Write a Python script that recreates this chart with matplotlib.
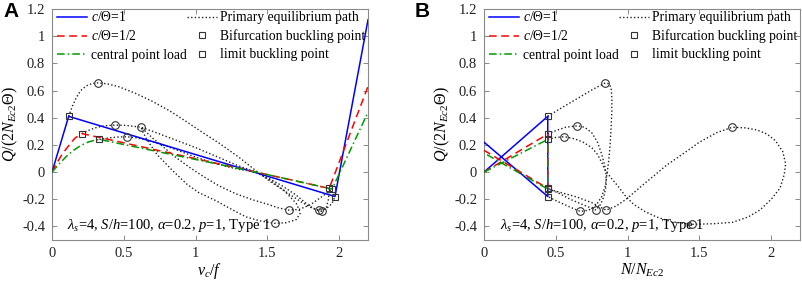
import matplotlib
matplotlib.use("Agg")
import matplotlib.pyplot as plt
from matplotlib.lines import Line2D

plt.rcParams['font.family'] = ['Liberation Serif', 'DejaVu Serif']
plt.rcParams['mathtext.fontset'] = 'custom'
plt.rcParams['mathtext.rm'] = 'Liberation Serif'
plt.rcParams['mathtext.it'] = 'Liberation Serif:italic'
plt.rcParams['mathtext.bf'] = 'Liberation Serif:bold'

# ---------------- Panel A (Q vs v_c/f) ----------------
vA_blue = [0, 0.116, 1.97, 2.2]
QA_blue = [0, 0.41, -0.18, 1.12]
vA_red = [0, 0.03, 0.07, 0.12, 0.16, 0.209, 1.42, 1.93, 2.2]
QA_red = [0, 0.06, 0.13, 0.20, 0.25, 0.283, 0.0, -0.12, 0.63]
vA_green = [0, 0.05, 0.10, 0.15, 0.20, 0.25, 0.30, 0.33, 1.42, 1.95, 2.2]
QA_green = [0, 0.06, 0.115, 0.16, 0.195, 0.22, 0.235, 0.24, 0.0, -0.125, 0.44]

vA_path1 = [0.116, 0.14, 0.17, 0.20, 0.24, 0.28, 0.318, 0.38, 0.46, 0.58, 0.70, 0.82, 0.93,
            1.05, 1.16, 1.30, 1.42, 1.52, 1.62, 1.72, 1.80, 1.86, 1.91, 1.95, 1.97]
QA_path1 = [0.41, 0.48, 0.55, 0.60, 0.635, 0.652, 0.656, 0.65, 0.63, 0.58, 0.52, 0.45, 0.375,
            0.29, 0.215, 0.11, 0.01, -0.07, -0.14, -0.21, -0.26, -0.28, -0.27, -0.23, -0.18]
vA_path2 = [0.209, 0.25, 0.30, 0.36, 0.44, 0.52, 0.62, 0.70, 0.80, 0.90, 1.0, 1.1, 1.2, 1.3,
            1.42, 1.5, 1.6, 1.7, 1.78, 1.84, 1.88, 1.91, 1.925, 1.93]
QA_path2 = [0.283, 0.305, 0.325, 0.34, 0.346, 0.343, 0.33, 0.30, 0.26, 0.22, 0.18, 0.135, 0.09, 0.045,
            0.0, -0.04, -0.10, -0.17, -0.24, -0.28, -0.29, -0.26, -0.20, -0.12]
vA_path3 = [0.33, 0.40, 0.46, 0.52, 0.60, 0.70, 0.80, 0.90, 1.0, 1.1, 1.2, 1.3, 1.42, 1.52, 1.62,
            1.70, 1.73, 1.70, 1.63, 1.55, 1.45, 1.35, 1.26, 1.14, 1.02, 0.94, 0.84, 0.73, 0.66,
            0.63, 0.62, 0.65, 0.70, 0.78, 0.86, 0.95, 1.05, 1.16, 1.28, 1.40, 1.51, 1.58, 1.65,
            1.72, 1.80, 1.88, 1.95]
QA_path3 = [0.24, 0.252, 0.258, 0.26, 0.25, 0.225, 0.19, 0.15, 0.11, 0.075, 0.045, 0.02, 0.0,
            -0.06, -0.14, -0.23, -0.30, -0.35, -0.373, -0.377, -0.36, -0.33, -0.28, -0.21, -0.15,
            -0.09, 0.01, 0.13, 0.24, 0.30, 0.33, 0.30, 0.25, 0.18, 0.11, 0.04, -0.03, -0.10, -0.16,
            -0.205, -0.24, -0.265, -0.28, -0.275, -0.24, -0.18, -0.125]

vA_bif = [0.116, 0.209, 0.33, 1.97, 1.93, 1.95]
QA_bif = [0.41, 0.283, 0.24, -0.18, -0.12, -0.125]
vA_lim = [0.318, 0.44, 0.52, 0.62, 1.55, 1.65, 1.86, 1.88]
QA_lim = [0.656, 0.346, 0.26, 0.33, -0.377, -0.28, -0.28, -0.29]

# ---------------- Panel B (Q vs N/N_Ec2) ----------------
NB_blue = [0, 0.444, 0.444, 0]
QB_blue = [0, 0.41, -0.18, 0.22]
NB_red = [0, 0.444, 0.444, 0]
QB_red = [0, 0.28, -0.12, 0.16]
NB_green = [0, 0.444, 0.444, 0]
QB_green = [0, 0.24, -0.125, 0.14]

NB_path1 = [0.444, 0.52, 0.60, 0.68, 0.76, 0.845, 0.87, 0.885, 0.89, 0.89, 0.885, 0.878, 0.868,
            0.858, 0.845, 0.82, 0.78, 0.73, 0.67, 0.60, 0.52, 0.444]
QB_path1 = [0.41, 0.46, 0.51, 0.56, 0.61, 0.656, 0.65, 0.62, 0.55, 0.45, 0.33, 0.20, 0.08,
            0.0, -0.10, -0.18, -0.245, -0.28, -0.29, -0.258, -0.22, -0.18]
NB_path2 = [0.444, 0.50, 0.57, 0.65, 0.70, 0.75, 0.79, 0.82, 0.84, 0.85, 0.85, 0.835, 0.81, 0.78,
            0.70, 0.60, 0.52, 0.444]
QB_path2 = [0.28, 0.305, 0.33, 0.34, 0.33, 0.29, 0.22, 0.13, 0.05, -0.02, -0.10, -0.18, -0.24, -0.28,
            -0.245, -0.20, -0.155, -0.12]
NB_path3 = [0.444, 0.50, 0.56, 0.63, 0.69, 0.75, 0.79, 0.82, 0.845, 0.89, 0.93, 0.98, 1.04, 1.12,
            1.20, 1.30, 1.45, 1.60, 1.73, 1.84, 1.92, 2.0, 2.06, 2.09, 2.10, 2.08, 2.03, 1.97, 1.90,
            1.82, 1.73, 1.62, 1.50, 1.38, 1.27, 1.18, 1.10, 0.99, 0.92, 0.85, 0.75, 0.65, 0.55, 0.444]
QB_path3 = [0.24, 0.255, 0.26, 0.245, 0.22, 0.18, 0.13, 0.07, 0.01, -0.05, -0.10, -0.17, -0.236, -0.29,
            -0.33, -0.365, -0.385, -0.38, -0.37, -0.33, -0.28, -0.20, -0.12, -0.02, 0.06, 0.15, 0.23, 0.28,
            0.31, 0.325, 0.33, 0.29, 0.22, 0.13, 0.05, -0.03, -0.10, -0.20, -0.25, -0.28, -0.225, -0.185,
            -0.155, -0.125]

NB_bif = [0.444, 0.444, 0.444, 0.444, 0.444, 0.444]
QB_bif = [0.41, 0.28, 0.24, -0.12, -0.125, -0.18]
NB_lim = [0.845, 0.65, 0.56, 1.73, 1.45, 0.67, 0.78, 0.85]
QB_lim = [0.656, 0.34, 0.26, 0.33, -0.385, -0.29, -0.28, -0.28]

yticks = [-0.4, -0.2, 0, 0.2, 0.4, 0.6, 0.8, 1, 1.2]
ytick_labels = ['-0.4', '-0.2', '0', '0.2', '0.4', '0.6', '0.8', '1', '1.2']
xticks = [0, 0.5, 1, 1.5, 2]
xtick_labels = ['0', '0.5', '1', '1.5', '2']

legend_labels = [r'$c/\Theta$=1', r'$c/\Theta$=1/2', 'central point load',
                 'Primary equilibrium path', 'Bifurcation buckling point', 'limit buckling point']
annot = r'$\lambda_s$=4, $S/h$=100, $\alpha$=0.2, $p$=1, Type 1'

BLUE = '#0000ff'
RED = '#ff0000'
GREEN = '#009a00'
SPINE = '#8a8a8a'

fig = plt.figure(figsize=(8.03, 2.87), dpi=100)
axA = fig.add_axes([52/803, 47/287, 316/803, 231/287])
axB = fig.add_axes([484/803, 47/287, 316/803, 231/287])


def style(ax, xlabel):
    ax.set_xlim(0, 2.2)
    ax.set_ylim(-0.5, 1.2)
    ax.set_xticks(xticks)
    ax.set_xticklabels(xtick_labels)
    ax.set_yticks(yticks)
    ax.set_yticklabels(ytick_labels)
    ax.tick_params(direction='in', top=True, right=True, length=3.5, width=0.7,
                   color=SPINE, labelsize=10.5, labelcolor='#222222', pad=5)
    for s in ax.spines.values():
        s.set_color(SPINE)
        s.set_linewidth(0.8)
    ax.set_xlabel(xlabel, fontsize=11.5, labelpad=1)
    ax.set_ylabel(r'$Q/(2N_{Ec2}\Theta)$', fontsize=11.5, labelpad=1.5)


def dotted(ax, x, y):
    ax.plot(x, y, color='#222222', linestyle=(0, (1, 1.6)), linewidth=1.0, zorder=2)


MS_SQ = 5.0
MS_CI = 5.5

# Panel A
dotted(axA, vA_path1, QA_path1)
dotted(axA, vA_path2, QA_path2)
dotted(axA, vA_path3, QA_path3)
axA.plot(vA_blue, QA_blue, color=BLUE, lw=1.1, zorder=3)
axA.plot(vA_red, QA_red, color=RED, lw=1.1, ls=(0, (5, 3)), zorder=3)
axA.plot(vA_green, QA_green, color=GREEN, lw=1.1, ls=(0, (5, 2, 1, 2)), zorder=3)
axA.plot(vA_bif, QA_bif, ls='none', marker='s', ms=MS_SQ, mfc='none', mec='#333333', mew=0.8, zorder=4)
axA.plot(vA_lim, QA_lim, ls='none', marker='o', ms=MS_CI, mfc='none', mec='#333333', mew=0.8, zorder=4)
style(axA, r'$v_c/f$')
axA.text(0.105, -0.39, annot, fontsize=10.5, va='center', ha='left')

# Panel B
dotted(axB, NB_path1, QB_path1)
dotted(axB, NB_path2, QB_path2)
dotted(axB, NB_path3, QB_path3)
axB.plot(NB_blue, QB_blue, color=BLUE, lw=1.1, zorder=3)
axB.plot(NB_red, QB_red, color=RED, lw=1.1, ls=(0, (5, 3)), zorder=3)
axB.plot(NB_green, QB_green, color=GREEN, lw=1.1, ls=(0, (5, 2, 1, 2)), zorder=3)
axB.plot(NB_bif, QB_bif, ls='none', marker='s', ms=MS_SQ, mfc='none', mec='#333333', mew=0.8, zorder=4)
axB.plot(NB_lim, QB_lim, ls='none', marker='o', ms=MS_CI, mfc='none', mec='#333333', mew=0.8, zorder=4)
style(axB, r'$N/N_{Ec2}$')
axB.text(0.11, -0.39, annot, fontsize=10.5, va='center', ha='left')

handles = [
    Line2D([], [], color=BLUE, lw=1.1),
    Line2D([], [], color=RED, lw=1.1, ls=(0, (5, 3))),
    Line2D([], [], color=GREEN, lw=1.1, ls=(0, (5, 2, 1, 2))),
    Line2D([], [], color='#222222', lw=1.0, ls=(0, (1, 1.6))),
    Line2D([], [], ls='none', marker='s', ms=MS_SQ, mfc='none', mec='#333333', mew=0.8),
    Line2D([], [], ls='none', marker='s', ms=MS_SQ, mfc='none', mec='#333333', mew=0.8),
]
for ax in (axA, axB):
    ax.legend(handles, legend_labels, ncol=2, frameon=False, loc='upper left',
              bbox_to_anchor=(0.0, 1.018), borderaxespad=0.2, fontsize=9.8,
              handlelength=2.2, handletextpad=0.25, columnspacing=0.0,
              labelspacing=0.38, borderpad=0.2)

fig.text(3/803, 1 - 2/287, 'A', fontfamily='Liberation Sans', fontweight='bold',
         fontsize=15, va='top', ha='left')
fig.text(415/803, 1 - 2/287, 'B', fontfamily='Liberation Sans', fontweight='bold',
         fontsize=15, va='top', ha='left')

fig.savefig('out.png', dpi=100)
